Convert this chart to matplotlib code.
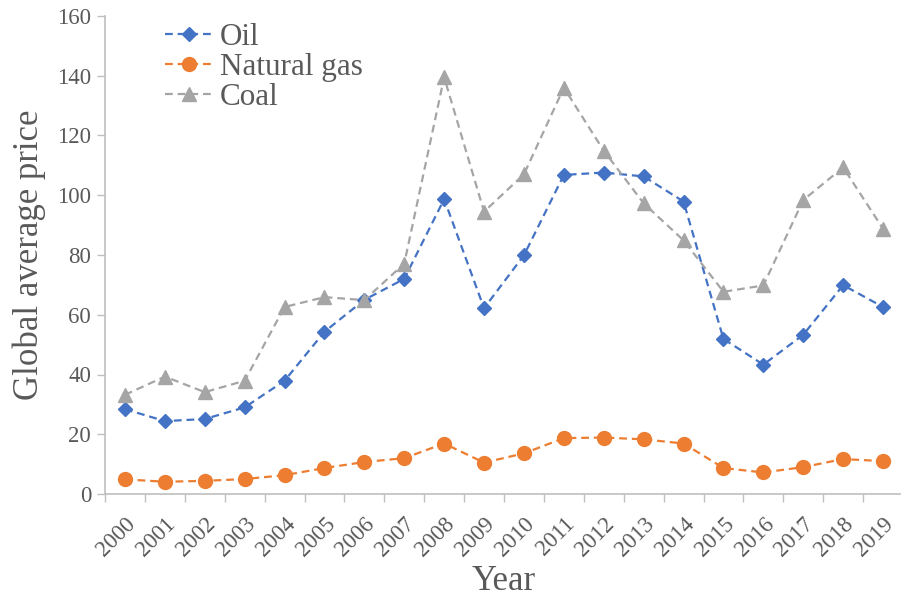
import matplotlib
matplotlib.use("Agg")
import matplotlib.pyplot as plt
import numpy as np

years = [str(y) for y in range(2000, 2020)]
oil = [28.4, 24.4, 25.1, 29.0, 37.9, 54.3, 65.0, 72.0, 98.7, 62.2,
       79.9, 106.8, 107.6, 106.3, 97.9, 51.9, 43.3, 53.3, 69.9, 62.6]
gas = [4.9, 4.1, 4.4, 5.0, 6.3, 8.7, 10.7, 12.0, 16.9, 10.5,
       13.6, 18.7, 18.9, 18.3, 16.9, 8.7, 7.2, 9.0, 11.7, 11.0]
coal = [33.2, 39.3, 34.1, 37.9, 62.6, 65.9, 64.9, 77.1, 139.5, 94.5,
        107.0, 136.0, 114.9, 97.3, 84.9, 67.7, 69.8, 98.4, 109.3, 88.8]
yticks = [0, 20, 40, 60, 80, 100, 120, 140, 160]

plt.rcParams['font.family'] = ['Liberation Serif', 'DejaVu Serif']
txt = '#595959'
axc = '#BFBFBF'

fig = plt.figure(figsize=(9.01, 5.99), dpi=100)
ax = fig.add_axes([105/901, (599-494)/599, 798/901, (494-16)/599])

x = np.arange(len(years))
dash = (3.5, 2.2)
ax.plot(x, oil, color='#4472C4', lw=1.6, dashes=dash, marker='D', ms=7,
        label='Oil')
ax.plot(x, gas, color='#ED7D31', lw=1.6, dashes=dash, marker='o', ms=10,
        label='Natural gas')
ax.plot(x, coal, color='#A5A5A5', lw=1.6, dashes=dash, marker='^', ms=9.5,
        label='Coal')

ax.set_xlim(-0.5, len(years) - 0.5)
ax.set_ylim(0, 160)
ax.set_yticks(yticks)
ax.set_yticklabels([str(v) for v in yticks], fontsize=16.5, color=txt)
ax.set_xticks(x)
ax.set_xticklabels(years, fontsize=16.5, color=txt, rotation=45,
                   ha='right', va='top', rotation_mode='anchor')
ax.set_xticks(np.arange(-0.5, len(years)), minor=True)
ax.tick_params(axis='x', which='major', length=0, pad=14)
ax.tick_params(axis='x', which='minor', length=6, color=axc, width=1)
ax.tick_params(axis='y', which='major', length=6, color=axc, width=1, pad=4)

for s in ['top', 'right']:
    ax.spines[s].set_visible(False)
for s in ['left', 'bottom']:
    ax.spines[s].set_color(axc)
    ax.spines[s].set_linewidth(1.2)

ax.set_ylabel('Global average price', fontsize=25, color=txt, labelpad=8)
ax.set_xlabel('Year', fontsize=25, color=txt, labelpad=3)

leg = ax.legend(loc='upper left', bbox_to_anchor=(0.06, 1.012), frameon=False,
                fontsize=22.4, labelcolor=txt, handlelength=1.5,
                handletextpad=0.26, labelspacing=0.03, borderaxespad=0)

fig.savefig('out.png', dpi=100)
